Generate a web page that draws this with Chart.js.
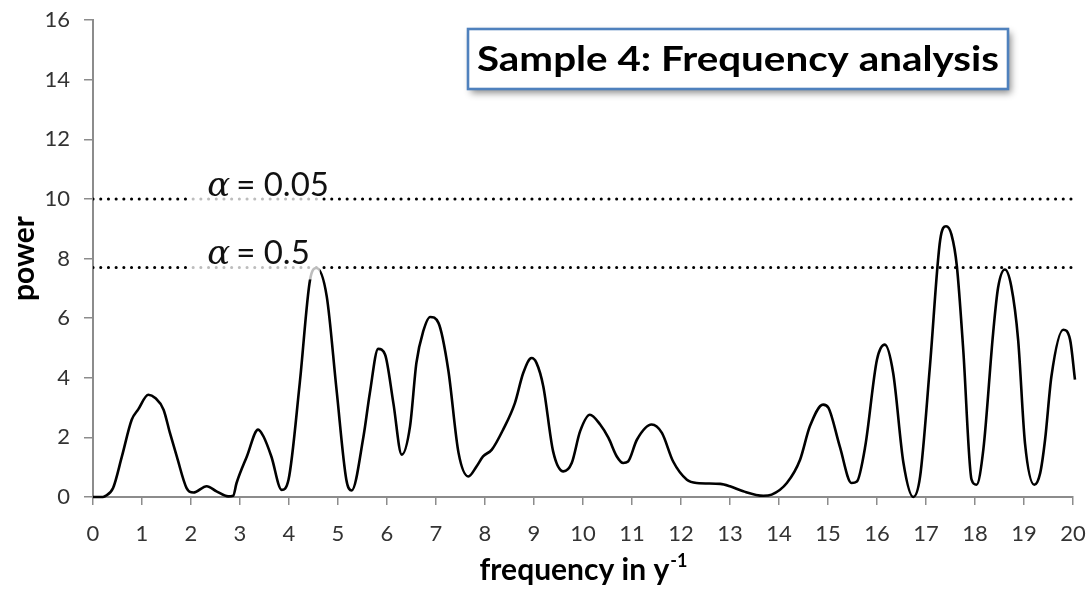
<!DOCTYPE html>
<html>
<head>
<meta charset="utf-8">
<script src="https://cdn.jsdelivr.net/npm/chart.js@4.4.1/dist/chart.umd.min.js"></script>
<style>
  html, body { margin: 0; padding: 0; background: #ffffff; }
  #wrap { width: 1088px; height: 589px; position: relative; }
</style>
</head>
<body>
<div id="wrap"><canvas id="c" width="1088" height="589"></canvas></div>
<script>
// ---- data ----
const chartTitle = 'Sample 4: Frequency analysis';
const xAxisTitle = 'frequency in y';
const xAxisTitleSup = '-1';
const yAxisTitle = 'power';

const freq = [0, 0.2, 0.24, 0.41, 0.59, 0.79, 0.92, 1.13, 1.27, 1.44, 1.57, 1.71, 1.91, 2.05, 2.32, 2.52, 2.76, 2.86,
  2.93, 3.14, 3.37, 3.48, 3.64, 3.85, 3.99, 4.22, 4.43, 4.56, 4.77, 4.97, 5.17, 5.28, 5.52, 5.65, 5.82, 5.96,
  6.13, 6.3, 6.47, 6.6, 6.74, 6.88, 7.05, 7.25, 7.46, 7.66, 7.83, 7.96, 8.14, 8.37, 8.61, 8.78, 8.95, 9.05,
  9.19, 9.39, 9.6, 9.77, 9.94, 10.14, 10.35, 10.52, 10.69, 10.82, 10.92, 11.1, 11.4, 11.61, 11.84, 12.12,
  12.32, 12.8, 13.0, 13.27, 13.68, 13.85, 14.16, 14.43, 14.63, 14.9, 15.01, 15.24, 15.48, 15.59, 15.76,
  16.0, 16.16, 16.33, 16.54, 16.74, 16.88, 17.08, 17.29, 17.41, 17.52, 17.63, 17.76, 17.93, 18.03, 18.17,
  18.37, 18.47, 18.61, 18.74, 18.88, 19.02, 19.21, 19.33, 19.43, 19.56, 19.8, 19.94, 20.04];
const power = [0, 0, 0.02, 0.3, 1.36, 2.59, 2.93, 3.43, 3.32, 2.93, 2.15, 1.36, 0.3, 0.15, 0.36, 0.19, 0.02, 0.04,
  0.47, 1.36, 2.26, 2.03, 1.36, 0.24, 0.58, 3.83, 7.29, 7.68, 6.73, 3.6, 0.58, 0.22, 2.03, 3.49, 4.97, 4.78,
  3.15, 1.42, 2.37, 4.5, 5.56, 6.04, 5.84, 4.27, 1.48, 0.69, 1.03, 1.36, 1.59, 2.26, 3.15, 4.16, 4.66, 4.5,
  3.71, 1.53, 0.86, 1.14, 2.2, 2.76, 2.43, 1.98, 1.36, 1.14, 1.19, 1.92, 2.43, 2.15, 1.19, 0.58,
  0.47, 0.44, 0.36, 0.19, 0.04, 0.08, 0.47, 1.25, 2.37, 3.1, 2.99, 1.7, 0.47, 0.52, 1.7,
  4.61, 5.11, 4.16, 1.14, 0, 0.69, 4.38, 8.63, 9.08, 8.8, 7.74, 4.94, 0.58, 0.41, 1.59,
  5.5, 7.01, 7.63, 7.07, 5.28, 1.81, 0.41, 0.8, 1.92, 4.05, 5.61, 5.28, 3.94];

const thresholdLevels = [10, 7.7];
const thresholdAlphas = ['0.05', '0.5'];

const xMin = 0, xMax = 20, xStep = 1;
const yMin = 0, yMax = 16, yStep = 2;

// ---- styling ----
const AXIS_GRAY = '#8c8c8c';
const TICK_COLOR = '#333333';
const FONT = 'Lato, "Open Sans", "DejaVu Sans", sans-serif';

const datasets = [{
  label: 'power',
  data: freq.map((f, i) => ({ x: f, y: power[i] })),
  showLine: true,
  borderColor: '#000000',
  borderWidth: 2.6,
  pointRadius: 0,
  cubicInterpolationMode: 'monotone',
  clip: false,
  order: 1
}];
thresholdLevels.forEach((lv, i) => {
  datasets.push({
    label: 'alpha ' + thresholdAlphas[i],
    data: [{ x: xMin, y: lv }, { x: xMax, y: lv }],
    showLine: true,
    borderColor: '#000000',
    borderWidth: 3,
    borderDash: [0.1, 7.6],
    borderCapStyle: 'round',
    pointRadius: 0,
    order: 0
  });
});

const overlayPlugin = {
  id: 'overlay',
  afterDatasetsDraw(chart) {
    const ctx = chart.ctx;
    const xs = chart.scales.x, ys = chart.scales.y;
    thresholdLevels.forEach((lv, i) => {
      const yLine = ys.getPixelForValue(lv);
      const x0 = xs.getPixelForValue(1.93);
      const x1 = xs.getPixelForValue(4.63);
      ctx.save();
      ctx.fillStyle = 'rgba(255,255,255,0.74)';
      ctx.fillRect(x0, yLine - 34, x1 - x0, 46);
      ctx.fillStyle = '#111111';
      ctx.textBaseline = 'alphabetic';
      const base = yLine - 3;
      let x = xs.getPixelForValue(2.33);
      ctx.font = 'italic 34px "DejaVu Serif", "Liberation Serif", serif';
      ctx.fillText('\u03B1', x, base);
      x += ctx.measureText('\u03B1').width + 6;
      ctx.font = '33px ' + FONT;
      ctx.fillText('= ' + thresholdAlphas[i], x, base);
      ctx.restore();
    });
  },
  afterDraw(chart) {
    const ctx = chart.ctx;
    const area = chart.chartArea;
    // x axis title with superscript
    ctx.save();
    ctx.fillStyle = '#000000';
    ctx.textBaseline = 'alphabetic';
    ctx.font = 'bold 30px ' + FONT;
    const w1 = ctx.measureText(xAxisTitle).width;
    ctx.font = 'bold 18px ' + FONT;
    const w2 = ctx.measureText(xAxisTitleSup).width;
    const cx = (area.left + area.right) / 2;
    const startX = cx - (w1 + w2) / 2;
    ctx.font = 'bold 30px ' + FONT;
    ctx.fillText(xAxisTitle, startX, 580);
    ctx.font = 'bold 18px ' + FONT;
    ctx.fillText(xAxisTitleSup, startX + w1 + 1, 567);
    ctx.restore();

    // title box
    const bx = 468, by = 29, bw = 540, bh = 60;
    ctx.save();
    ctx.shadowColor = 'rgba(0,0,0,0.45)';
    ctx.shadowBlur = 7;
    ctx.shadowOffsetX = 3;
    ctx.shadowOffsetY = 4;
    ctx.fillStyle = '#ffffff';
    ctx.fillRect(bx, by, bw, bh);
    ctx.restore();
    ctx.save();
    ctx.strokeStyle = '#4f81bd';
    ctx.lineWidth = 2.6;
    ctx.strokeRect(bx, by, bw, bh);
    ctx.fillStyle = '#000000';
    ctx.font = 'bold 35px ' + FONT;
    ctx.textBaseline = 'alphabetic';
    const tw = ctx.measureText(chartTitle).width;
    const target = 522;
    const sx = target / tw;
    ctx.translate(bx + (bw - target) / 2, by + 42);
    ctx.scale(sx, 1);
    ctx.fillText(chartTitle, 0, 0);
    ctx.restore();
  }
};

new Chart(document.getElementById('c'), {
  type: 'scatter',
  data: { datasets },
  options: {
    responsive: false,
    animation: false,
    events: [],
    layout: { autoPadding: false, padding: { top: 20, right: 15, bottom: 0, left: 0 } },
    plugins: { legend: { display: false }, tooltip: { enabled: false }, title: { display: false } },
    scales: {
      x: {
        type: 'linear', min: xMin, max: xMax,
        afterFit(s) { s.height = 92; s.paddingLeft = 0; s.paddingRight = 0; },
        ticks: { stepSize: xStep, color: TICK_COLOR, font: { family: FONT, size: 22 }, padding: 16, maxRotation: 0, autoSkip: false },
        grid: { drawOnChartArea: false, drawTicks: true, tickLength: 8, color: AXIS_GRAY, lineWidth: 1.5 },
        border: { color: AXIS_GRAY, width: 2 },
        title: { display: false }
      },
      y: {
        type: 'linear', min: yMin, max: yMax,
        afterFit(s) { s.width = 93; s.paddingTop = 0; s.paddingBottom = 0; },
        ticks: { stepSize: yStep, color: TICK_COLOR, font: { family: FONT, size: 22 }, padding: 14 },
        grid: { drawOnChartArea: false, drawTicks: true, tickLength: 9, color: AXIS_GRAY, lineWidth: 1.5 },
        border: { color: AXIS_GRAY, width: 2 },
        title: { display: true, text: yAxisTitle, color: '#000000', font: { family: FONT, size: 30, weight: 'bold' }, padding: { top: 6, bottom: 0 } }
      }
    }
  },
  plugins: [overlayPlugin]
});
</script>
</body>
</html>
